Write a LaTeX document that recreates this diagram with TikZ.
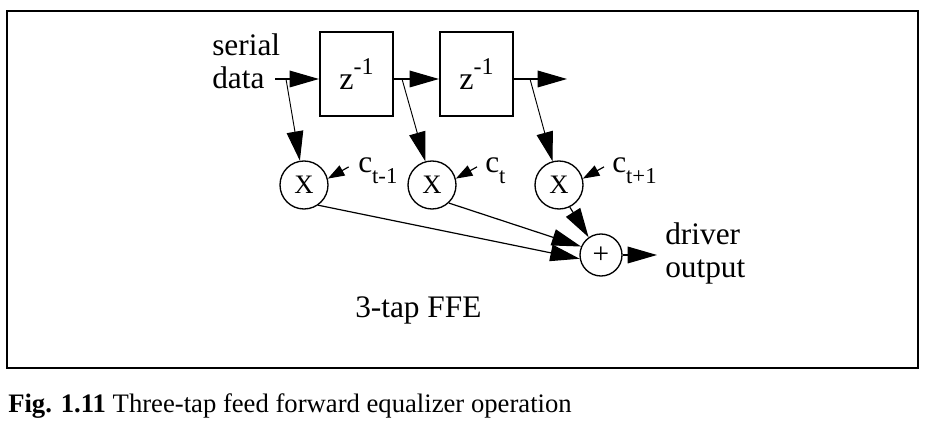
\documentclass[tikz,border=0pt]{standalone}
\usepackage{fontspec}
\setmainfont{Liberation Serif}
\usetikzlibrary{arrows.meta}
\newcommand{\tapsub}[1]{\raisebox{-0.33em}{\fontsize{17}{17}\selectfont #1}}
\newcommand{\delaysup}[1]{\raisebox{0.45em}{\fontsize{18}{18}\selectfont #1}}

\begin{document}
\begin{tikzpicture}[x=0.75pt,y=-0.75pt,
  big/.style={-{Triangle[length=22pt,width=12.5pt]},line width=0.9pt},
  small/.style={-{Triangle[length=12.5pt,width=8.5pt]},line width=0.9pt},
  delay/.style={draw,line width=1.3pt,minimum width=55pt,minimum height=63pt,inner sep=0pt,font=\fontsize{24}{24}\selectfont},
  mult/.style={draw,circle,line width=1pt,minimum size=36pt,inner sep=0pt,font=\fontsize{20}{20}\selectfont},
  txt/.style={inner sep=0pt,font=\fontsize{23.5}{25}\selectfont}]
\useasboundingbox (0,0) rectangle (931,423);

%FRAME
\draw[line width=1.5pt] (7,11) rectangle (918,368);

%BLOCKS
\node[delay] (d1) at (356.5,74) {z\delaysup{-1}};
\node[delay] (d2) at (476.5,74) {z\delaysup{-1}};
\node[mult] (m1) at (304,185) {X};
\node[mult] (m2) at (432,185) {X};
\node[mult] (m3) at (559,185) {X};
\node[mult,minimum size=31.5pt,font=\fontsize{22}{22}\selectfont] (sum) at (601,255) {+};

%DELAY LINE
\coordinate (in) at (275,79);
\coordinate (t1) at (286,79);
\coordinate (t2) at (402,79);
\coordinate (t3) at (530,79);
\coordinate (out) at (567,79);
\draw[big] (in) -- (d1.west |- in);
\draw[big] (d1.east |- in) -- (d2.west |- in);
\draw[big] (d2.east |- in) -- (out);

%TAPS
\draw[big,line width=0.7pt] (t1) -- (m1);
\draw[big,line width=0.7pt] (t2) -- (m2);
\draw[big,line width=0.7pt] (t3) -- (m3);

%COEFFICIENTS
\node[txt,anchor=base west] (c1) at (358,173) {c\tapsub{t-1}};
\node[txt,anchor=base west] (c2) at (485,173) {c\tapsub{t}};
\node[txt,anchor=base west] (c3) at (612,173) {c\tapsub{t+1}};
\draw[small] ([xshift=-7pt,yshift=3pt]c1.west) -- (m1.15);
\draw[small] ([xshift=-6pt,yshift=3pt]c2.west) -- (m2.15);
\draw[small] ([xshift=-6pt,yshift=3pt]c3.west) -- (m3.15);

%SUM
\coordinate (drv) at (657,255);
\draw[big] (m1.-55) -- (sum.190);
\draw[big] (m2.-47) -- (sum.157);
\draw[big] (m3.-64) -- (sum.125);
\draw[big] (sum.east) -- (drv);

%LABELS
\node[txt,anchor=base west,align=left] (ser) at (212,89) {serial\\data};
\node[txt,anchor=base west,align=left] (drvtxt) at (665,278) {driver\\output};
\node[txt,anchor=base west] (ffe) at (355,318) {3-tap FFE};
\node[anchor=base west,inner sep=0pt,font=\fontsize{20}{20}\selectfont] (cap) at (8,413) {\textbf{Fig. 1.11} Three-tap feed forward equalizer operation};

\end{tikzpicture}
\end{document}
